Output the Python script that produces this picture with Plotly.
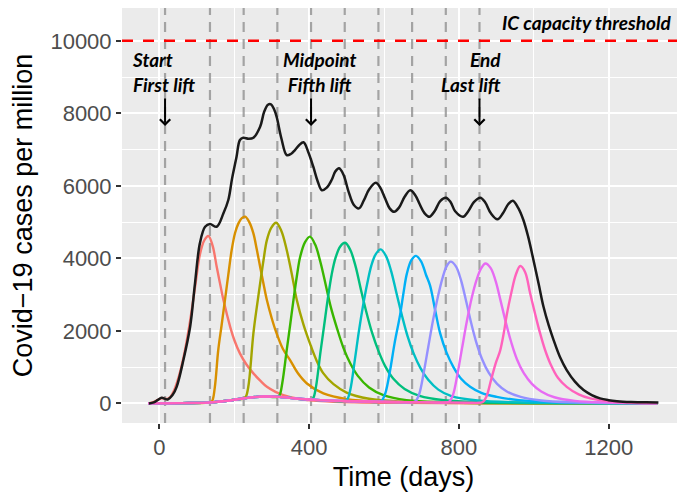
import plotly.graph_objects as go

# lift moments (days) -> grey dashed lines
lift_days = [15, 135, 225, 315, 405, 495, 585, 675, 765, 855]
ic_threshold = 10000

x_ticks = [0, 400, 800, 1200]
y_ticks = [0, 2000, 4000, 6000, 8000, 10000]

x_range = [-100, 1404]
y_range = [-540, 10906]

# total cases (black)
total_days = [-28, -15, -5, 6, 15, 22, 35, 46, 64, 82, 95, 108, 122, 135, 153, 171, 184, 194,
              206, 215, 224, 238, 251, 269, 280, 290, 298, 306, 313, 326, 340, 351, 362, 373,
              385, 397, 411, 422, 434, 447, 460, 470, 480, 492, 505, 519, 533, 546, 560, 578,
              590, 603, 615, 627, 640, 655, 670, 683, 695, 708, 721, 735, 750, 765, 778, 790,
              811, 825, 840, 857, 870, 885, 903, 918, 932, 944, 958, 972, 985, 999, 1013, 1026,
              1040, 1053, 1070, 1088, 1110, 1133, 1155, 1177, 1200, 1222, 1260, 1300, 1333]
total_cases = [0, 30, 90, 155, 125, 110, 230, 458, 1195, 2113, 3310, 4414, 4873, 4947, 4873,
               5242, 5609, 6200, 6804, 7265, 7328, 7300, 7328, 7632, 8050, 8240, 8250, 8120,
               7908, 7300, 6850, 6880, 6989, 7120, 7201, 6950, 6528, 6150, 5878, 5950, 6161,
               6400, 6484, 6300, 5850, 5480, 5380, 5600, 5900, 6086, 5950, 5650, 5380, 5286,
               5400, 5700, 5878, 5750, 5500, 5250, 5148, 5300, 5580, 5673, 5550, 5300, 5148,
               5300, 5550, 5673, 5550, 5250, 5077, 5250, 5500, 5590, 5400, 5066, 4600, 3963,
               3300, 2665, 2150, 1747, 1280, 920, 600, 368, 230, 138, 90, 63, 40, 30, 28]

# groups, one per lift
g1_days = [-30, -15, -2, 8, 18, 28, 40, 52, 65, 80, 95, 108, 120, 131, 142, 153, 162, 171,
           189, 200, 215, 232, 251, 270, 287, 310, 331, 370, 430, 520, 650, 850, 1330]
g1_cases = [0, 40, 110, 148, 120, 170, 380, 750, 1300, 2150, 3200, 4100, 4500, 4616, 4350,
            3770, 3300, 2850, 2113, 1750, 1380, 1080, 828, 620, 458, 320, 230, 130, 65, 30,
            14, 6, 0]

g2_days = [-30, 60, 135, 141, 148, 157, 166, 175, 184, 193, 202, 211, 220, 229, 240, 251,
           260, 269, 278, 287, 300, 313, 330, 349, 370, 394, 438, 500, 600, 750, 1000, 1330]
g2_cases = [0, 8, 28, 70, 450, 1460, 2150, 2850, 3550, 4230, 4700, 4966, 5110, 5150, 5000,
            4690, 4250, 3770, 3300, 2850, 2350, 1930, 1500, 1195, 830, 550, 276, 120, 45, 15,
            5, 0]

g3_days = [-30, 60, 140, 200, 225, 231, 238, 251, 260, 269, 278, 287, 299, 312, 326, 340,
           354, 367, 384, 402, 420, 438, 465, 500, 560, 650, 800, 1000, 1330]
g3_cases = [0, 8, 30, 100, 140, 190, 500, 1930, 2650, 3310, 3950, 4505, 4850, 4983, 4750,
            4230, 3550, 2850, 2200, 1655, 1180, 828, 530, 300, 130, 50, 18, 7, 0]

g4_days = [-30, 60, 140, 200, 240, 280, 315, 321, 328, 340, 349, 358, 367, 376, 389, 402,
           416, 430, 444, 458, 475, 492, 510, 530, 560, 600, 660, 760, 1000, 1330]
g4_cases = [0, 8, 30, 100, 160, 190, 182, 230, 550, 1470, 2150, 2850, 3500, 4045, 4450, 4600,
            4380, 3900, 3280, 2650, 2050, 1520, 1100, 760, 440, 220, 90, 32, 8, 0]

g5_days = [-30, 60, 140, 200, 240, 280, 320, 370, 405, 411, 418, 430, 440, 450, 460, 470,
           483, 496, 510, 524, 538, 552, 568, 585, 603, 625, 655, 695, 760, 860, 1050, 1330]
g5_cases = [0, 8, 30, 100, 160, 190, 180, 130, 105, 150, 450, 1400, 2150, 2900, 3550, 4000,
            4330, 4430, 4230, 3780, 3150, 2550, 1950, 1450, 1030, 680, 400, 210, 90, 32, 10, 0]

g6_days = [-30, 60, 140, 200, 240, 280, 320, 370, 430, 495, 502, 510, 522, 533, 544, 555,
           566, 578, 591, 605, 619, 633, 648, 663, 679, 697, 718, 745, 780, 850, 960, 1100,
           1330]
g6_cases = [0, 8, 30, 100, 160, 190, 180, 130, 90, 68, 110, 380, 1200, 2000, 2700, 3300,
            3800, 4120, 4250, 4070, 3650, 3050, 2420, 1850, 1380, 980, 650, 380, 200, 80, 30,
            10, 0]

g7_days = [-30, 60, 140, 200, 240, 280, 320, 370, 430, 520, 585, 594, 604, 616, 628, 643,
           652, 661, 673, 685, 699, 712, 723, 737, 750, 767, 785, 806, 830, 860, 901, 960,
           1050, 1200, 1330]
g7_cases = [0, 8, 30, 100, 160, 190, 180, 130, 90, 60, 45, 80, 300, 900, 1650, 2450, 3050,
            3580, 3950, 4070, 3920, 3550, 3250, 2550, 1930, 1400, 1010, 680, 460, 290, 180,
            90, 35, 10, 0]

g8_days = [-30, 60, 140, 200, 240, 280, 320, 370, 430, 520, 620, 675, 684, 694, 706, 718,
           731, 744, 756, 767, 778, 792, 805, 818, 832, 846, 862, 880, 902, 928, 965, 1020,
           1100, 1250, 1330]
g8_cases = [0, 8, 30, 100, 160, 190, 180, 130, 90, 60, 40, 32, 60, 260, 850, 1550, 2300,
            2950, 3450, 3780, 3910, 3780, 3420, 2880, 2250, 1700, 1220, 840, 540, 330, 180,
            80, 30, 8, 0]

g9_days = [-30, 60, 140, 200, 240, 280, 320, 370, 430, 520, 620, 720, 765, 774, 784, 796,
           808, 821, 834, 847, 859, 871, 885, 898, 911, 925, 940, 955, 973, 995, 1020, 1055,
           1110, 1200, 1330]
g9_cases = [0, 8, 30, 100, 160, 190, 180, 130, 90, 60, 40, 28, 24, 50, 230, 800, 1500, 2250,
            2900, 3400, 3720, 3860, 3730, 3380, 2850, 2250, 1680, 1220, 840, 540, 330, 170,
            70, 22, 0]

g10_days = [-30, 60, 140, 200, 240, 280, 320, 370, 430, 520, 620, 720, 820, 855, 864, 874,
            886, 898, 910, 920, 928, 940, 952, 964, 977, 990, 1004, 1017, 1030, 1044, 1065,
            1088, 1120, 1151, 1200, 1270, 1330]
g10_cases = [0, 8, 30, 100, 160, 190, 180, 130, 90, 60, 40, 28, 20, 18, 40, 200, 650, 1100,
             1450, 1950, 2450, 3050, 3550, 3790, 3620, 3050, 2450, 1930, 1480, 1104, 700, 458,
             250, 138, 60, 20, 0]

groups = [
    (g1_days, g1_cases, "#F8766D"),
    (g2_days, g2_cases, "#D89000"),
    (g3_days, g3_cases, "#A3A500"),
    (g4_days, g4_cases, "#39B600"),
    (g5_days, g5_cases, "#00BF7D"),
    (g6_days, g6_cases, "#00BFC4"),
    (g7_days, g7_cases, "#00B0F6"),
    (g8_days, g8_cases, "#9590FF"),
    (g9_days, g9_cases, "#E76BF3"),
    (g10_days, g10_cases, "#FF62BC"),
]

fig = go.Figure()

# grey dashed lift lines, full panel height
vx, vy = [], []
for d in lift_days:
    vx += [d, d, None]
    vy += [y_range[0], y_range[1], None]
fig.add_trace(
    go.Scatter(
        x=vx, y=vy, mode="lines",
        line=dict(color="rgba(150,150,150,0.85)", width=2.2, dash="10px,7px"),
        hoverinfo="skip",
    )
)

# red IC capacity line
fig.add_trace(
    go.Scatter(
        x=x_range, y=[ic_threshold, ic_threshold], mode="lines",
        line=dict(color="#FF0000", width=2.5, dash="11px,10px"),
        hoverinfo="skip",
    )
)

for days, cases, color in groups:
    fig.add_trace(
        go.Scatter(
            x=days,
            y=cases,
            mode="lines",
            line=dict(color=color, width=2.4, shape="spline", smoothing=1.0),
        )
    )

fig.add_trace(
    go.Scatter(
        x=total_days,
        y=total_cases,
        mode="lines",
        line=dict(color="#1A1A1A", width=2.5, shape="spline", smoothing=1.0),
    )
)

note_font = dict(family="Lato, Open Sans, sans-serif", size=19, color="black")

fig.add_annotation(x=1372, y=10520, text="<b><i>IC capacity threshold</i></b>",
                   showarrow=False, xanchor="right", font=note_font)
fig.add_annotation(x=-79, y=9130, text="<b><i>Start<br>First lift</i></b>",
                   showarrow=False, xanchor="left", align="left", font=note_font)
fig.add_annotation(x=427, y=9130, text="<b><i>Midpoint<br>Fifth lift</i></b>",
                   showarrow=False, xanchor="center", align="center", font=note_font)
fig.add_annotation(x=918, y=9130, text="<b><i>End<br>Last lift</i></b>",
                   showarrow=False, xanchor="right", align="right", font=note_font)

for d in [lift_days[0], lift_days[4], lift_days[-1]]:
    fig.add_annotation(
        x=d, y=7650, ax=d, ay=8450, xref="x", yref="y", axref="x", ayref="y",
        text="", showarrow=True, arrowhead=4, arrowsize=1, arrowwidth=2,
        arrowcolor="black", standoff=0, startstandoff=0,
    )

axis_font = dict(family="Liberation Sans, Arial, sans-serif", size=22, color="#4D4D4D")
title_font = dict(family="Liberation Sans, Arial, sans-serif", size=27, color="black")

fig.update_xaxes(
    range=x_range,
    tickvals=x_ticks,
    tickformat="d",
    ticks="outside",
    ticklen=5,
    tickwidth=1.5,
    tickcolor="#333333",
    tickfont=axis_font,
    showgrid=True,
    gridcolor="white",
    gridwidth=1.8,
    minor=dict(dtick=200, tick0=0, showgrid=True, gridcolor="white", gridwidth=0.9),
    zeroline=False,
    showline=False,
    automargin=False,
    title=dict(text="Time (days)", font=title_font, standoff=7),
)
fig.update_yaxes(
    range=y_range,
    tickvals=y_ticks,
    tickformat="d",
    ticks="outside",
    ticklen=5,
    tickwidth=1.5,
    tickcolor="#333333",
    tickfont=axis_font,
    showgrid=True,
    gridcolor="white",
    gridwidth=1.8,
    minor=dict(dtick=1000, tick0=0, showgrid=True, gridcolor="white", gridwidth=0.9),
    zeroline=False,
    showline=False,
    automargin=False,
    title=dict(text="Covid\u221219 cases per million", font=title_font, standoff=10),
)

# the page body adds an 8px offset, so the figure is 8px smaller each way
fig.update_layout(
    width=677,
    height=488,
    margin=dict(l=114, r=0, t=0, b=73),
    plot_bgcolor="#EBEBEB",
    paper_bgcolor="white",
    showlegend=False,
)

fig.write_html("out.html")
